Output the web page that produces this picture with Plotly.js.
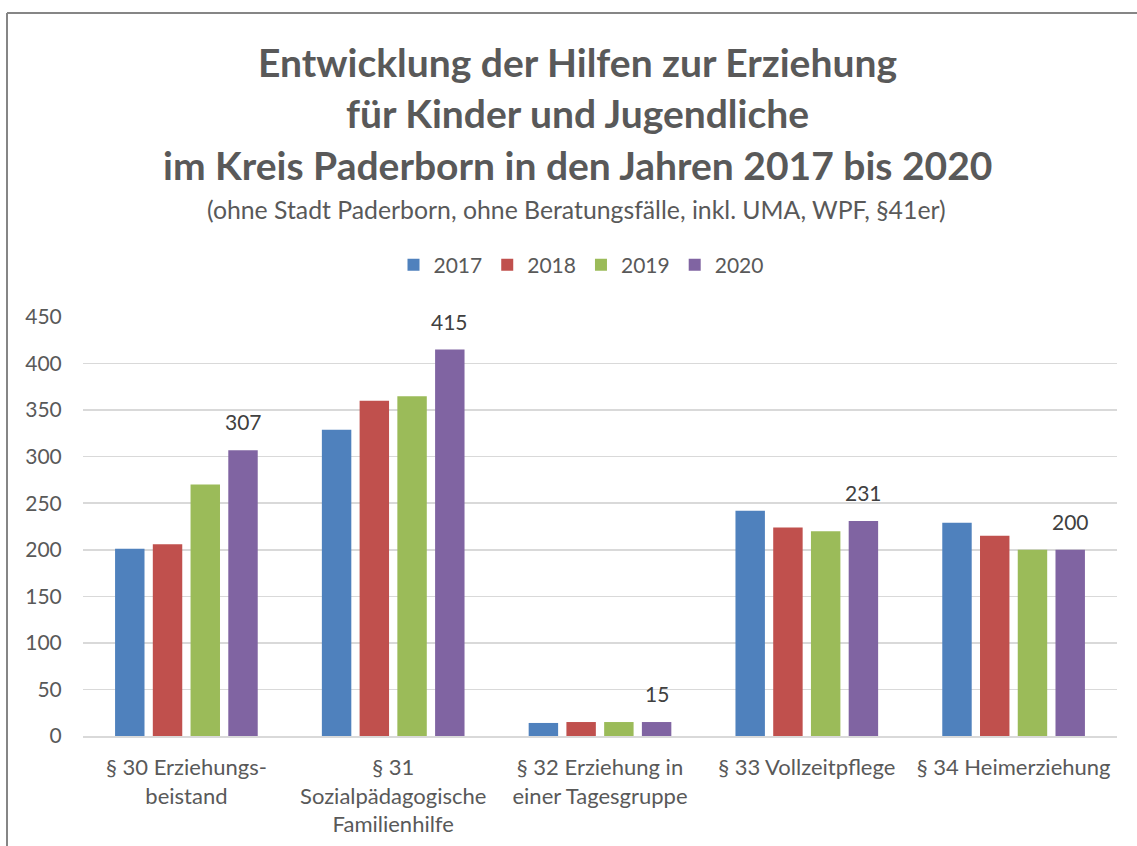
<!DOCTYPE html>
<html>
<head>
<meta charset="utf-8">
<script src="https://cdn.plot.ly/plotly-3.0.1.min.js"></script>
<style>html,body{margin:0;padding:0;background:#fff;}#chart{width:1137px;height:846px;}</style>
</head>
<body>
<div id="chart"></div>
<script>
const categories = [
  "§ 30 Erziehungs-<br>beistand",
  "§ 31<br>Sozialpädagogische<br>Familienhilfe",
  "§ 32 Erziehung in<br>einer Tagesgruppe",
  "§ 33 Vollzeitpflege",
  "§ 34 Heimerziehung"
];
const years = ["2017", "2018", "2019", "2020"];
const values2017 = [201, 329, 14, 242, 229];
const values2018 = [206, 360, 15, 224, 215];
const values2019 = [270, 365, 15, 220, 200];
const values2020 = [307, 415, 15, 231, 200];
const colors = ["#4F81BD", "#C0504D", "#9BBB59", "#8064A2"];
const titleLines = [
  "Entwicklung der Hilfen zur Erziehung",
  "für Kinder und Jugendliche",
  "im Kreis Paderborn in den Jahren 2017 bis 2020"
];
const subtitle = "(ohne Stadt Paderborn, ohne Beratungsfälle, inkl. UMA, WPF, §41er)";

const FONT = "Lato, 'Open Sans', sans-serif";
const W = 1137, H = 846, ml = 83, mr = 20, mt = 317, mb = 110;
const pw = W - ml - mr, ph = H - mt - mb;
const BARGAP = 0.27, GROUPGAP = 0.22;

const series = [values2017, values2018, values2019, values2020];
const traces = series.map((vals, i) => ({
  type: "bar",
  name: years[i],
  x: categories,
  y: vals,
  marker: {color: colors[i]},
  hoverinfo: "y"
}));

const titleX = 577 / W;
const annotations = titleLines.map((line) => ({
  text: "<b>" + line + "</b>",
  xref: "paper", yref: "paper",
  x: (577 - ml) / pw, xanchor: "center", y: 0, yanchor: "middle",
  showarrow: false,
  font: {family: FONT, size: 39, color: "#595959"}
}));
annotations.push({
  text: subtitle, xref: "paper", yref: "paper", x: (576 - ml) / pw, xanchor: "center",
  y: 0, yanchor: "middle", showarrow: false,
  font: {family: FONT, size: 24.8, color: "#595959"}
});
const ypix = [62, 113, 165, 210];
ypix.forEach((yp, i) => { annotations[i].y = (H - mb - yp) / ph; });

// data labels for the 2020 series, placed above its bars
const slotPx = (pw / categories.length) * (1 - BARGAP) / series.length;
const shift2020 = slotPx * (3 - (series.length - 1) / 2);
values2020.forEach((v, i) => {
  annotations.push({
    text: String(v), x: categories[i], y: v, xref: "x", yref: "y",
    xanchor: "center", yanchor: "bottom", showarrow: false,
    xshift: shift2020, yshift: 14,
    font: {family: FONT, size: 21, color: "#404040"}
  });
});

const layout = {
  width: W, height: H,
  margin: {l: ml, r: mr, t: mt, b: mb},
  paper_bgcolor: "#ffffff", plot_bgcolor: "#ffffff",
  font: {family: FONT, color: "#595959", size: 21},
  barmode: "group",
  bargap: BARGAP,
  bargroupgap: GROUPGAP,
  showlegend: true,
  legend: {
    orientation: "h", x: 581 / W, xanchor: "center", xref: "container",
    y: (H - 265) / H, yanchor: "middle", yref: "container",
    font: {family: FONT, size: 21, color: "#595959"},
    itemwidth: 30, traceorder: "normal"
  },
  xaxis: {
    type: "category",
    showgrid: false, zeroline: false,
    showline: true, linecolor: "#d9d9d9", linewidth: 1.5,
    ticks: "outside", ticklen: 11, tickcolor: "rgba(0,0,0,0)",
    tickfont: {family: FONT, size: 22, color: "#595959"},
    automargin: false
  },
  yaxis: {
    range: [0, 450], dtick: 50, tick0: 0,
    showgrid: true, gridcolor: "#d9d9d9", gridwidth: 1.5,
    zeroline: false, showline: false,
    ticks: "outside", ticklen: 16, tickcolor: "rgba(0,0,0,0)",
    tickfont: {family: FONT, size: 21, color: "#595959"},
    automargin: false
  },
  annotations: annotations,
  shapes: [
    {type: "line", xref: "paper", yref: "paper", layer: "above",
     x0: -76/pw, x1: 1.1, y0: (H - mb - 13)/ph, y1: (H - mb - 13)/ph,
     line: {color: "#868686", width: 2}},
    {type: "line", xref: "paper", yref: "paper", layer: "above",
     x0: -76/pw, x1: -76/pw, y0: (H - mb - 13)/ph, y1: -0.5,
     line: {color: "#868686", width: 2}}
  ]
};

Plotly.newPlot("chart", traces, layout, {displayModeBar: false, staticPlot: true});
</script>
</body>
</html>
